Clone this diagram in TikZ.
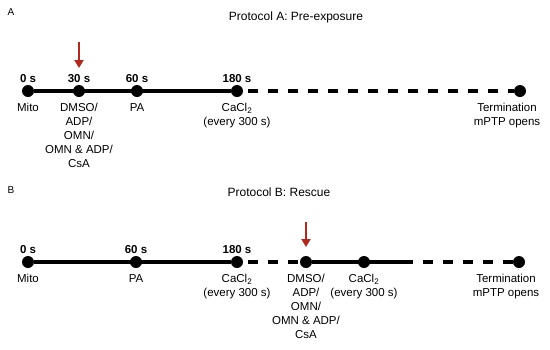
\documentclass[tikz,border=0pt]{standalone}
\usepackage{fontspec}
\setmainfont{Liberation Sans}
\usetikzlibrary{positioning,arrows.meta}
\definecolor{arrowred}{RGB}{178,40,28}
\tikzset{
  dot/.style={circle, fill=black, inner sep=0pt, minimum size=12pt},
  time/.style={font=\fontsize{11.5}{14}\selectfont\bfseries, inner sep=1pt},
  lbl/.style={font=\fontsize{11.5}{14}\selectfont, align=center, inner sep=1pt},
  title/.style={font=\fontsize{12}{14}\selectfont},
  tag/.style={font=\fontsize{10}{11}\selectfont},
  solidline/.style={line width=3.2pt},
  dashline/.style={line width=3.2pt, dash pattern=on 10pt off 10pt, dash phase=15pt},
  drugarrow/.style={line width=2.5pt, arrowred, -{Triangle[width=9pt,length=8pt]}}
}
\begin{document}
\begin{tikzpicture}[x=1pt, y=-1pt]
  % Window of the picture
  \useasboundingbox (0,0) rectangle (550,349);

  % Protocol A: time points
  \node[tag] (tagA) at (11,12) {A};
  \node[title] (titleA) at (296,17) {Protocol A: Pre-exposure};
  \node[dot] (a0) at (28,91) {};
  \node[dot] (a30) at (79,91) {};
  \node[dot] (a60) at (137,91) {};
  \node[dot] (a180) at (237,91) {};
  \node[dot] (aend) at (520,91) {};

  % Timeline A
  \draw[solidline] (a0) -- (a180);
  \draw[dashline] (a180.east) -- (aend.west);

  % Times above, treatments below
  \node[time, above=1pt of a0] (a0t) {0 s};
  \node[time, above=1pt of a30] (a30t) {30 s};
  \node[time, above=1pt of a60] (a60t) {60 s};
  \node[time, above=1pt of a180] (a180t) {180 s};
  \node[lbl, below=5pt of a0] (a0l) {Mito};
  \node[lbl, below=5pt of a30] (a30l) {DMSO/\\ADP/\\OMN/\\OMN \& ADP/\\CsA};
  \node[lbl, below=5pt of a60] (a60l) {PA};
  \node[lbl, below=5pt of a180] (a180l) {CaCl\textsubscript{2}\\(every 300 s)};
  \node[lbl, below=5pt of aend, xshift=-13pt] (aendl) {Termination\\mPTP opens};

  % Drug addition A
  \coordinate (arrA) at (79,42);
  \coordinate (arrAend) at (79,68);
  \draw[drugarrow] (arrA) -- (arrAend);

  % Protocol B: time points
  \node[tag] (tagB) at (11,190) {B};
  \node[title] (titleB) at (279,192) {Protocol B: Rescue};
  \node[dot] (b0) at (28,262) {};
  \node[dot] (b60) at (136,262) {};
  \node[dot] (b180) at (237,262) {};
  \node[dot] (bdrug) at (306,262) {};
  \node[dot] (bca) at (364,262) {};
  \node[dot] (bend) at (519,262) {};
  \coordinate (bstop) at (413,262);

  % Timeline B
  \draw[solidline] (b0) -- (b180);
  \draw[dashline] (b180.east) -- (bdrug.west);
  \draw[solidline] (bdrug) -- (bstop);
  \draw[dashline, dash phase=10pt] (bstop) -- (bend.west);

  % Times above, treatments below
  \node[time, above=1pt of b0] (b0t) {0 s};
  \node[time, above=1pt of b60] (b60t) {60 s};
  \node[time, above=1pt of b180] (b180t) {180 s};
  \node[lbl, below=5pt of b0] (b0l) {Mito};
  \node[lbl, below=5pt of b60] (b60l) {PA};
  \node[lbl, below=5pt of b180] (b180l) {CaCl\textsubscript{2}\\(every 300 s)};
  \node[lbl, below=5pt of bdrug] (bdrugl) {DMSO/\\ADP/\\OMN/\\OMN \& ADP/\\CsA};
  \node[lbl, below=5pt of bca] (bcal) {CaCl\textsubscript{2}\\(every 300 s)};
  \node[lbl, below=5pt of bend, xshift=-13pt] (bendl) {Termination\\mPTP opens};

  % Drug addition B
  \coordinate (arrB) at (306,222);
  \coordinate (arrBend) at (306,247);
  \draw[drugarrow] (arrB) -- (arrBend);
\end{tikzpicture}
\end{document}
